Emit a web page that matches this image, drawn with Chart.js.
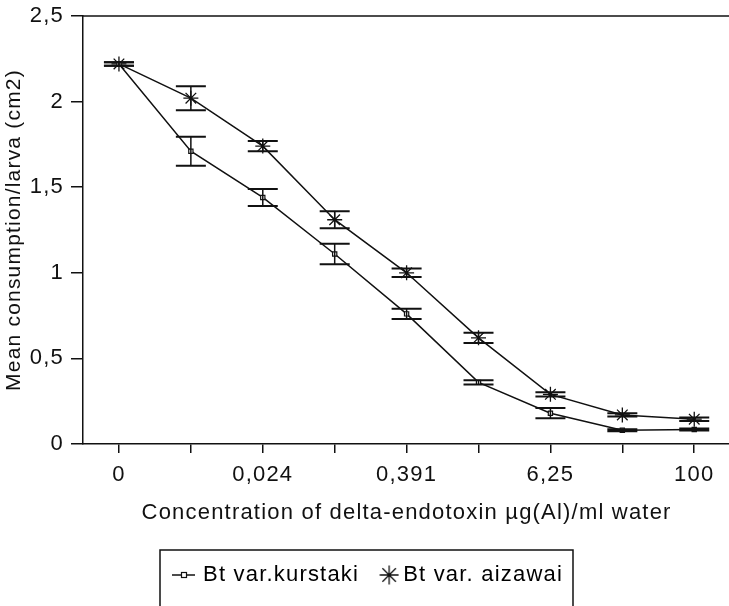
<!DOCTYPE html>
<html>
<head>
<meta charset="utf-8">
<script src="https://cdn.jsdelivr.net/npm/chart.js@4/dist/chart.umd.min.js"></script>
<style>
  html, body { margin: 0; padding: 0; background: #fff; overflow: hidden; }
</style>
</head>
<body>
<canvas id="c" width="739" height="606" style="display:block;width:739px;height:606px"></canvas>
<script>
// ---- data ----
const categories = ['0', '', '0,024', '', '0,391', '', '6,25', '', '100'];
const kurstaki    = [2.22, 1.71, 1.44, 1.11, 0.76, 0.36, 0.18, 0.08, 0.085];
const kurstakiErr = [0.01, 0.085, 0.05, 0.06, 0.03, 0.012, 0.03, 0.006, 0.006];
const aizawai     = [2.22, 2.02, 1.74, 1.31, 1.00, 0.62, 0.29, 0.17, 0.145];
const aizawaiErr  = [0.01, 0.07, 0.03, 0.05, 0.025, 0.03, 0.012, 0.01, 0.01];
const yTicks      = [0, 0.5, 1, 1.5, 2, 2.5];
const seriesNames = ['Bt var.kurstaki', 'Bt var. aizawai'];

const FONT = "'Liberation Sans', Arial, Helvetica, sans-serif";
const INK = '#111';
const SPACING = '1.2px';

// legend marker images
function makeLineSquare() {
  const c = document.createElement('canvas');
  c.width = 24; c.height = 10;
  const g = c.getContext('2d');
  g.strokeStyle = INK; g.lineWidth = 1.5;
  g.beginPath(); g.moveTo(0, 5); g.lineTo(23, 5); g.stroke();
  g.fillStyle = '#fff';
  g.fillRect(9.5, 2.5, 5, 5);
  g.lineWidth = 1.2;
  g.strokeRect(9.5, 2.5, 5, 5);
  return c;
}
function makeStar() {
  const c = document.createElement('canvas');
  c.width = 30; c.height = 24;
  const g = c.getContext('2d');
  g.strokeStyle = INK; g.lineWidth = 1.3;
  const r = 9.5, cx = 20, cy = 12;
  g.beginPath();
  for (let k = 0; k < 4; k++) {
    const a = k * Math.PI / 4;
    g.moveTo(cx - r * Math.cos(a), cy - r * Math.sin(a));
    g.lineTo(cx + r * Math.cos(a), cy + r * Math.sin(a));
  }
  g.stroke();
  return c;
}
const legendImgs = [makeLineSquare(), makeStar()];
const errors = [kurstakiErr, aizawaiErr];

const spacingPlugin = {
  id: 'spacing',
  beforeUpdate(chart) { chart.ctx.letterSpacing = SPACING; },
  beforeDraw(chart) { chart.ctx.letterSpacing = SPACING; }
};

const errorBarPlugin = {
  id: 'errorBars',
  afterDatasetsDraw(chart) {
    const ctx = chart.ctx;
    const ys = chart.scales.y;
    ctx.save();
    ctx.strokeStyle = INK;
    chart.data.datasets.forEach((ds, i) => {
      const meta = chart.getDatasetMeta(i);
      meta.data.forEach((pt, j) => {
        const v = ds.data[j], e = errors[i][j];
        const yt = ys.getPixelForValue(v + e);
        const yb = ys.getPixelForValue(v - e);
        const x = pt.x;
        ctx.lineWidth = 1.5;
        ctx.beginPath();
        ctx.moveTo(x, yt); ctx.lineTo(x, yb);
        ctx.stroke();
        ctx.lineWidth = 2;
        ctx.beginPath();
        ctx.moveTo(x - 15, yt); ctx.lineTo(x + 15, yt);
        ctx.moveTo(x - 15, yb); ctx.lineTo(x + 15, yb);
        ctx.stroke();
      });
    });
    ctx.restore();
  }
};

const framePlugin = {
  id: 'frame',
  afterDraw(chart) {
    const ctx = chart.ctx;
    const a = chart.chartArea;
    ctx.save();
    ctx.strokeStyle = INK;
    ctx.lineWidth = 1.5;
    ctx.beginPath();
    ctx.moveTo(a.left, a.top); ctx.lineTo(a.right + 2, a.top);
    ctx.stroke();
    const lg = chart.legend;
    if (lg && lg.legendHitBoxes && lg.legendHitBoxes.length) {
      const hb = lg.legendHitBoxes;
      const left = hb[0].left - 16;
      const last = hb[hb.length - 1];
      const right = last.left + last.width + 10;
      const top = hb[0].top - 14;
      ctx.lineWidth = 1.5;
      ctx.strokeRect(left, top, right - left, 80);
    }
    ctx.restore();
  }
};

new Chart(document.getElementById('c'), {
  type: 'line',
  data: {
    labels: categories,
    datasets: [
      {
        label: seriesNames[0],
        data: kurstaki,
        borderColor: INK,
        borderWidth: 1.5,
        backgroundColor: '#fff',
        pointStyle: 'rect',
        pointRadius: 3,
        pointBorderWidth: 1.2,
        pointBackgroundColor: '#fff',
        pointBorderColor: INK,
        tension: 0
      },
      {
        label: seriesNames[1],
        data: aizawai,
        borderColor: INK,
        borderWidth: 1.5,
        backgroundColor: '#fff',
        pointStyle: 'star',
        pointRadius: 7.5,
        pointBorderWidth: 1.3,
        pointBorderColor: INK,
        tension: 0
      }
    ]
  },
  options: {
    responsive: false,
    animation: false,
    devicePixelRatio: 1,
    layout: { padding: { top: 16, right: 0, bottom: 10, left: 0 } },
    plugins: {
      tooltip: { enabled: false },
      legend: {
        display: true,
        position: 'bottom',
        labels: {
          usePointStyle: true,
          pointStyleWidth: 16,
          padding: 17,
          color: INK,
          font: { family: FONT, size: 22 },
          generateLabels(chart) {
            return chart.data.datasets.map((ds, i) => ({
              text: ds.label,
              pointStyle: legendImgs[i],
              fillStyle: '#fff',
              strokeStyle: INK,
              lineWidth: 0,
              hidden: false,
              datasetIndex: i
            }));
          }
        }
      }
    },
    scales: {
      x: {
        type: 'category',
        offset: true,
        grid: { display: true, drawOnChartArea: false, drawTicks: true, tickLength: 9, color: INK, lineWidth: 1.5 },
        border: { display: true, color: INK, width: 1.5 },
        ticks: {
          autoSkip: false, maxRotation: 0, minRotation: 0,
          padding: 9,
          color: INK,
          font: { family: FONT, size: 22 }
        },
        title: {
          display: true,
          text: 'Concentration of delta-endotoxin µg(Al)/ml water',
          color: INK,
          font: { family: FONT, size: 22 },
          padding: { top: 4, bottom: 21 }
        },
        afterFit(scale) { scale.height = 103; scale.paddingLeft = 0; scale.paddingRight = 0; }
      },
      y: {
        min: 0, max: 2.5,
        afterBuildTicks(scale) { scale.ticks = yTicks.map(v => ({ value: v })); },
        grid: { display: true, drawOnChartArea: false, drawTicks: true, tickLength: 12, color: INK, lineWidth: 1.5 },
        border: { display: true, color: INK, width: 1.5 },
        ticks: {
          padding: 7,
          color: INK,
          font: { family: FONT, size: 22 },
          callback(v) { return String(v).replace('.', ','); }
        },
        title: {
          display: true,
          text: 'Mean consumption/larva (cm2)',
          color: INK,
          font: { family: FONT, size: 21 },
          padding: { top: 2, bottom: 0 }
        },
        afterFit(scale) { scale.width = 83; scale.paddingTop = 0; scale.paddingBottom = 0; }
      }
    }
  },
  plugins: [spacingPlugin, errorBarPlugin, framePlugin]
});
</script>
</body>
</html>
